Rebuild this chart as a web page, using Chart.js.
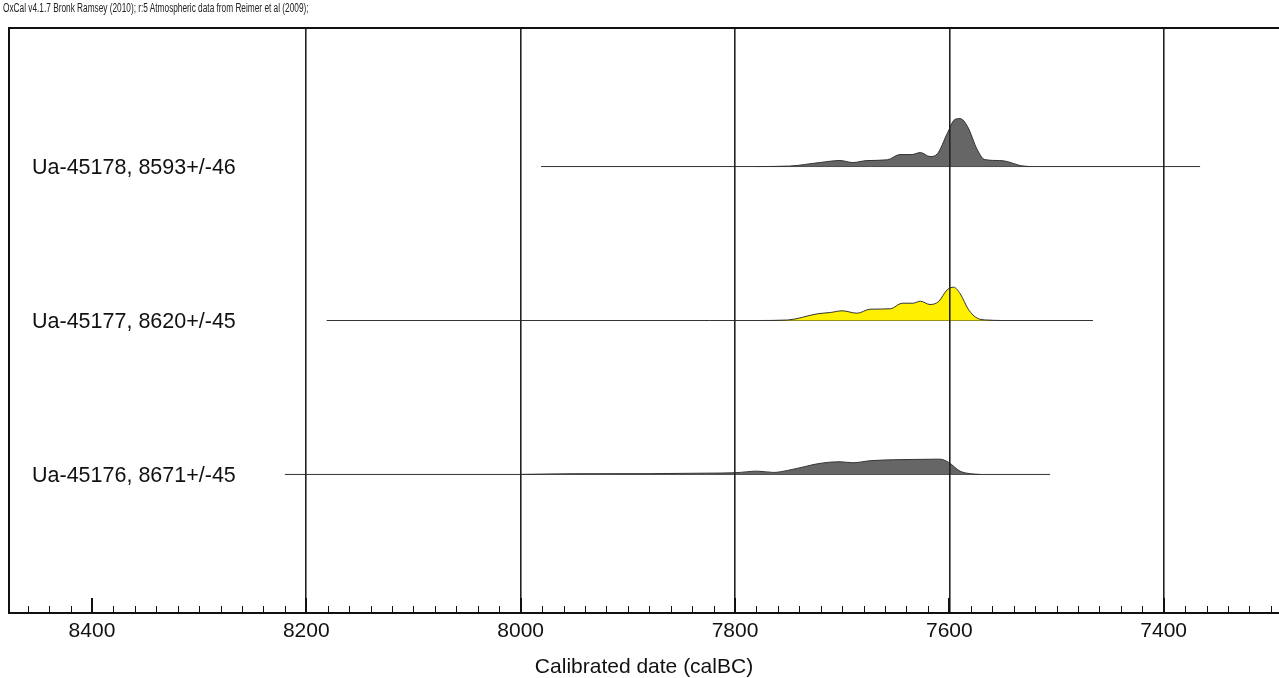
<!DOCTYPE html>
<html>
<head>
<meta charset="utf-8">
<script src="https://cdn.jsdelivr.net/npm/chart.js@4.4.1/dist/chart.umd.min.js"></script>
<style>
  body { margin: 0; background: #fff; }
  #wrap { position: relative; width: 1279px; height: 678px; }
  #header {
    position: absolute; left: 3px; top: 1px;
    font: 12px 'Liberation Sans', Arial, sans-serif; color: #222;
    white-space: nowrap; transform: scaleX(0.69); transform-origin: 0 0;
  }
</style>
</head>
<body>
<div id="wrap">
  <canvas id="chart" width="1279" height="678"></canvas>
  <div id="header"></div>
</div>
<script>
// calibrated date range of the plot (calBC, axis runs backwards)
const xMin = 7292.4;
const xMax = 8477.4;

const header = 'OxCal v4.1.7 Bronk Ramsey (2010); r:5 Atmospheric data from Reimer et al (2009);';
const axisTitle = 'Calibrated date (calBC)';

// samples, bottom row first
const sampleLabels = ['Ua-45176, 8671+/-45', 'Ua-45177, 8620+/-45', 'Ua-45178, 8593+/-46'];

// 95% range lines (start, end) per sample
const ranges = [
  [8220, 7506],
  [8181, 7466],
  [7981, 7366]
];

// probability curves (relative heights)
const yearsA = [7571, 7580, 7590, 7601, 7609, 7634, 7652, 7674, 7690, 7702, 7723, 7733, 7751, 7764, 7779, 7800, 7826, 7880, 7951, 8000];
const probA  = [0, 0.7, 3.3, 12.3, 15.3, 15, 14.7, 13.7, 11.7, 12.7, 10.7, 8.3, 4, 2, 3.3, 1.7, 1.3, 0.8, 0.7, 0];

const yearsB = [7550, 7565, 7574, 7582, 7590, 7596, 7602, 7610, 7618, 7627, 7634, 7644, 7655, 7674, 7686, 7700, 7711, 7723, 7751, 7780];
const probB  = [0, 0.5, 2.3, 10.7, 27, 33.3, 30.7, 19, 16, 19.3, 17.3, 17.3, 11.7, 11.3, 7.3, 9.7, 8, 6.7, 0.5, 0];

const yearsC = [7525, 7534, 7546, 7553, 7567, 7574, 7583, 7590, 7595, 7602, 7611, 7618, 7627, 7635, 7646, 7658, 7677, 7690, 7702, 7721, 7749, 7780];
const probC  = [0, 1, 5, 6, 7, 17, 40, 48, 47, 33, 13, 10, 14, 12, 12, 6.7, 6, 4, 6, 4, 0.5, 0];

const curveYears = [yearsA, yearsB, yearsC];
const curveProbs = [probA, probB, probC];
const fillColors = ['#666666', '#fff000', '#666666'];

const rowHeight = 154; // px per row, used to scale the relative heights

document.getElementById('header').textContent = header;

const datasets = [];
curveYears.forEach((yrs, i) => {
  const base = i + 1;
  datasets.push({
    data: yrs.map((yr, j) => ({ x: yr, y: base + curveProbs[i][j] / rowHeight })),
    borderColor: '#333',
    borderWidth: 1,
    backgroundColor: fillColors[i],
    fill: { value: base },
    pointRadius: 0,
    cubicInterpolationMode: 'monotone'
  });
  datasets.push({
    data: ranges[i].map(yr => ({ x: yr, y: base })),
    borderColor: '#333',
    borderWidth: 1,
    pointRadius: 0,
    fill: false
  });
});

const isMajor = v => Math.round(v) % 200 === 0;

// top frame line and the inward tick marks on the date axis
const frameTicks = {
  id: 'frameTicks',
  afterDraw(chart) {
    const { ctx, chartArea, scales: { x } } = chart;
    ctx.save();
    ctx.strokeStyle = '#111';
    ctx.lineWidth = 2;
    ctx.beginPath();
    ctx.moveTo(chartArea.left - 1, chartArea.top);
    ctx.lineTo(chartArea.right, chartArea.top);
    ctx.stroke();
    x.ticks.forEach(t => {
      const major = isMajor(t.value);
      const px = Math.round(x.getPixelForValue(t.value)) + (major ? 0 : 0.5);
      ctx.lineWidth = major ? 2 : 1;
      ctx.beginPath();
      ctx.moveTo(px, chartArea.bottom);
      ctx.lineTo(px, chartArea.bottom - (major ? 15 : 7));
      ctx.stroke();
    });
    ctx.restore();
  }
};

const font = "'Liberation Sans', Arial, sans-serif";

new Chart(document.getElementById('chart'), {
  type: 'line',
  data: { datasets },
  plugins: [frameTicks],
  options: {
    responsive: false,
    animation: false,
    layout: { padding: { left: 3, right: 0, top: 28, bottom: 0 } },
    plugins: {
      legend: { display: false },
      tooltip: { enabled: false }
    },
    scales: {
      x: {
        type: 'linear',
        reverse: true,
        min: xMin,
        max: xMax,
        afterFit(scale) {
          scale.height = 65;
          scale.paddingLeft = 0;
          scale.paddingRight = 0;
        },
        border: { display: true, color: '#111', width: 2, z: 2 },
        grid: {
          z: 1,
          drawTicks: false,
          lineWidth: 1.6,
          color: c => (c.tick && isMajor(c.tick.value) && Math.round(c.tick.value) !== 8400) ? '#222' : 'rgba(0,0,0,0)'
        },
        ticks: {
          stepSize: 20,
          autoSkip: false,
          includeBounds: false,
          maxRotation: 0,
          minRotation: 0,
          padding: 6,
          color: '#111',
          font: { family: font, size: 21 },
          callback: v => isMajor(v) ? String(Math.round(v)) : ''
        },
        title: {
          display: true,
          text: axisTitle,
          color: '#111',
          font: { family: font, size: 21, lineHeight: 1 },
          padding: { top: 0, bottom: 0 }
        }
      },
      y: {
        type: 'linear',
        min: 0.1,
        max: 3.9,
        afterBuildTicks(scale) {
          scale.ticks = sampleLabels.map((_, i) => ({ value: i + 1 }));
        },
        afterFit(scale) {
          scale.width = 6;
          scale.paddingTop = 0;
          scale.paddingBottom = 0;
        },
        border: { display: true, color: '#111', width: 2 },
        grid: { display: false, drawTicks: false },
        ticks: {
          mirror: true,
          padding: 23,
          labelOffset: 2,
          color: '#111',
          font: { family: font, size: 21.5 },
          callback: v => sampleLabels[Math.round(v) - 1]
        }
      }
    }
  }
});
</script>
</body>
</html>
